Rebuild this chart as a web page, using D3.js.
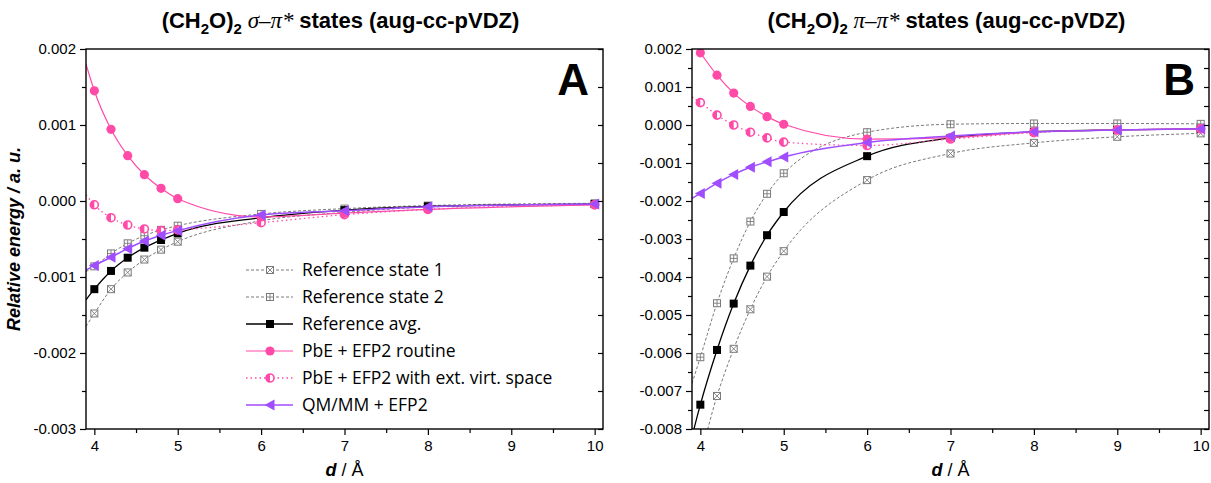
<!DOCTYPE html>
<html>
<head>
<meta charset="utf-8">
<script src="https://cdn.jsdelivr.net/npm/d3@7"></script>
<style>
  body { margin: 0; background: #fff; }
  svg { display: block; }
  .tick text { font-family: "Liberation Sans", Arial, sans-serif; font-size: 15px; fill: #000; }
</style>
</head>
<body>
<svg id="chart" width="1211" height="483"></svg>
<script>
const svg = d3.select("#chart");

// distances (Å)
const xA = [4, 4.2, 4.4, 4.6, 4.8, 5, 6, 7, 8, 10];
const xB = [4, 4.2, 4.4, 4.6, 4.8, 5, 6, 7, 8, 9, 10];

// panel A: sigma-pi* states, relative energy (a.u.)
const ref1A  = [-0.00148, -0.00116, -0.00094, -0.00077, -0.00064, -0.000535, -0.00026, -0.00015, -0.00008, -0.00004];
const ref2A  = [-0.00086, -0.00069, -0.000557, -0.000456, -0.00038, -0.000325, -0.00017, -0.0001, -0.00006, -0.00003];
const avgA   = [-0.00116, -0.00092, -0.000746, -0.000614, -0.000513, -0.000425, -0.00022, -0.00012, -0.00007, -0.00004];
const pbeA   = [0.00145, 0.000943, 0.000596, 0.000346, 0.000167, 0.00003, -0.00021, -0.00016, -0.00011, -0.00005];
const pbeExtA = [-0.00005, -0.00022, -0.000316, -0.000368, -0.00039, -0.00038, -0.000285, -0.00018, -0.00011, -0.00005];
const qmmmA  = [-0.00085, -0.00074, -0.000627, -0.000526, -0.000452, -0.00039, -0.000184, -0.000128, -0.000075, -0.00004];
// curve values where each line meets the left axis (x = 3.9)
const edgeA  = [-0.00165, -0.00093, -0.0013, 0.0018, 0.00008, -0.00091];

// panel B: pi-pi* states
const ref1B  = [-0.0087, -0.00713, -0.00589, -0.00485, -0.00399, -0.00332, -0.00145, -0.00075, -0.00047, -0.00031, -0.00022];
const ref2B  = [-0.00611, -0.00469, -0.00351, -0.00254, -0.00181, -0.00127, -0.00019, 0.00002, 0.00004, 0.00004, 0.00003];
const avgB   = [-0.00736, -0.00592, -0.0047, -0.0037, -0.0029, -0.00229, -0.00082, -0.00034, -0.00018, -0.00013, -0.0001];
const pbeB   = [0.0019, 0.00131, 0.00084, 0.00049, 0.00022, 0.00002, -0.00037, -0.00033, -0.00018, -0.00013, -0.0001];
const pbeExtB = [0.00059, 0.00026, 0.0, -0.00019, -0.00034, -0.00045, -0.00054, -0.00037, -0.0002, -0.00013, -0.0001];
const qmmmB  = [-0.0018, -0.00153, -0.0013, -0.00111, -0.00097, -0.00084, -0.00046, -0.00029, -0.00018, -0.00013, -0.0001];
const edgeB  = [-0.0094, -0.0068, -0.0082, 0.0022, 0.00074, -0.00193];

const seriesNames = ["Reference state 1", "Reference state 2", "Reference avg.",
  "PbE + EFP2 routine", "PbE + EFP2 with ext. virt. space", "QM/MM + EFP2"];

const xTicks = [4, 5, 6, 7, 8, 9, 10];
const xMinor = [4.5, 5.5, 6.5, 7.5, 8.5, 9.5];

const PINK = "#ff4aa8", PURPLE = "#a04dff", GRAY = "#7a7a7a";

const styles = [
  { color: GRAY, dash: "3,2", width: 1, marker: "boxX" },
  { color: GRAY, dash: "3,2", width: 1, marker: "boxPlus" },
  { color: "#000", dash: null, width: 1.3, marker: "square" },
  { color: PINK, dash: null, width: 1.2, marker: "circle" },
  { color: PINK, dash: "1.5,3", width: 1.3, marker: "half" },
  { color: PURPLE, dash: null, width: 1.5, marker: "triL" }
];

function drawMarker(g, type, color) {
  if (type === "boxX" || type === "boxPlus") {
    g.append("rect").attr("x", -3.5).attr("y", -3.5).attr("width", 7).attr("height", 7)
      .attr("fill", "#fff").attr("stroke", color).attr("stroke-width", 1);
    const p = type === "boxX" ? "M-3.5,-3.5L3.5,3.5M-3.5,3.5L3.5,-3.5" : "M0,-3.5V3.5M-3.5,0H3.5";
    g.append("path").attr("d", p).attr("stroke", color).attr("stroke-width", 0.9);
  } else if (type === "square") {
    g.append("rect").attr("x", -4).attr("y", -4).attr("width", 8).attr("height", 8).attr("fill", color);
  } else if (type === "circle") {
    g.append("circle").attr("r", 4.6).attr("fill", color);
  } else if (type === "half") {
    g.append("circle").attr("r", 4).attr("fill", "#fff").attr("stroke", color).attr("stroke-width", 1.6);
    g.append("path").attr("d", "M0,-4A4,4 0 0,0 0,4Z").attr("fill", color);
  } else if (type === "triL") {
    g.append("path").attr("d", "M-5.5,0L4.5,-5.5L4.5,5.5Z").attr("fill", color);
  }
}

const panels = [
  { left: 86, right: 603, x: xA, series: [ref1A, ref2A, avgA, pbeA, pbeExtA, qmmmA], edge: edgeA,
    yDomain: [-0.003, 0.002], letter: "A", sym: "\u03c3\u2013\u03c0*", legend: true },
  { left: 692, right: 1209, x: xB, series: [ref1B, ref2B, avgB, pbeB, pbeExtB, qmmmB], edge: edgeB,
    yDomain: [-0.008, 0.002], letter: "B", sym: "\u03c0\u2013\u03c0*", legend: false }
];
const plotTop = 49, plotBottom = 429;

panels.forEach((p, pi) => {
  const x = d3.scaleLinear().domain([3.9, 10.1]).range([p.left, p.right]);
  const y = d3.scaleLinear().domain(p.yDomain).range([plotBottom, plotTop]);
  const yMajor = d3.range(Math.round(p.yDomain[0] * 1000), Math.round(p.yDomain[1] * 1000) + 1).map(d => d / 1000);
  const yMinor = yMajor.slice(0, -1).map(d => d + 0.0005);

  const clipId = "clip" + pi;
  svg.append("clipPath").attr("id", clipId).append("rect")
    .attr("x", p.left).attr("y", plotTop).attr("width", p.right - p.left).attr("height", plotBottom - plotTop);

  const plot = svg.append("g").attr("clip-path", `url(#${clipId})`);
  const line = d3.line().x(d => x(d[0])).y(d => y(d[1])).curve(d3.curveMonotoneX);

  const order = [0, 1, 2, 4, 3, 5];
  order.forEach(si => {
    const st = styles[si];
    const pts = [[3.9, p.edge[si]]].concat(p.x.map((xv, i) => [xv, p.series[si][i]]));
    plot.append("path").attr("d", line(pts)).attr("fill", "none")
      .attr("stroke", st.color).attr("stroke-width", st.width)
      .attr("stroke-dasharray", st.dash);
  });
  order.forEach(si => {
    const st = styles[si];
    p.x.forEach((xv, i) => {
      const g = plot.append("g").attr("transform", `translate(${x(xv)},${y(p.series[si][i])})`);
      drawMarker(g, st.marker, st.color);
    });
  });

  // axes
  svg.append("g").attr("transform", `translate(0,${plotBottom})`)
    .call(d3.axisBottom(x).tickValues(xTicks).tickSize(6).tickPadding(5).tickFormat(d3.format("d")))
    .call(g => g.select(".domain").remove());
  svg.append("g").attr("transform", `translate(0,${plotBottom})`)
    .call(d3.axisBottom(x).tickValues(xMinor).tickSize(4).tickFormat(""))
    .call(g => g.select(".domain").remove());
  svg.append("g").attr("transform", `translate(${p.left},0)`)
    .call(d3.axisLeft(y).tickValues(yMajor).tickSize(6).tickPadding(4).tickFormat(d => d.toFixed(3)))
    .call(g => g.select(".domain").remove());
  svg.append("g").attr("transform", `translate(${p.left},0)`)
    .call(d3.axisLeft(y).tickValues(yMinor).tickSize(4).tickFormat(""))
    .call(g => g.select(".domain").remove());
  svg.append("g").attr("transform", `translate(${p.right},0)`)
    .call(d3.axisLeft(y).tickValues(yMajor.concat(yMinor)).tickSize(5).tickFormat(""))
    .call(g => g.select(".domain").remove());
  svg.selectAll(".tick line").attr("stroke-width", 1.2);

  svg.append("rect").attr("x", p.left).attr("y", plotTop)
    .attr("width", p.right - p.left).attr("height", plotBottom - plotTop)
    .attr("fill", "none").attr("stroke", "#000").attr("stroke-width", 1.4);

  // panel letter
  svg.append("text").attr("x", p.right - 14).attr("y", 95).attr("text-anchor", "end")
    .attr("font-family", "Liberation Sans, Arial, sans-serif").attr("font-weight", "bold")
    .attr("font-size", 44).text(p.letter);

  // title
  const cx = (p.left + p.right) / 2;
  const t = svg.append("text").attr("x", cx - 4).attr("y", 28).attr("text-anchor", "middle")
    .attr("font-family", "Liberation Sans, Arial, sans-serif").attr("font-weight", "bold").attr("font-size", 22);
  t.append("tspan").text("(CH");
  t.append("tspan").attr("font-size", 15).attr("dy", 6).text("2");
  t.append("tspan").attr("dy", -6).text("O)");
  t.append("tspan").attr("font-size", 15).attr("dy", 6).text("2");
  t.append("tspan").attr("dy", -6).attr("font-family", "Liberation Serif, serif").attr("font-style", "italic")
    .attr("font-weight", "normal").attr("font-size", 23).text(" " + p.sym + " ");
  t.append("tspan").text("states (aug-cc-pVDZ)");

  // x label
  const xl = svg.append("text").attr("x", cx).attr("y", 476).attr("text-anchor", "middle")
    .attr("font-family", "Liberation Sans, Arial, sans-serif").attr("font-size", 18);
  xl.append("tspan").attr("font-weight", "bold").attr("font-style", "italic").text("d");
  xl.append("tspan").text(" / \u00c5");

  if (p.legend) {
    const lg = svg.append("g").attr("transform", "translate(246,270)");
    seriesNames.forEach((name, i) => {
      const st = styles[i];
      const row = lg.append("g").attr("transform", `translate(0,${i * 27})`);
      row.append("line").attr("x1", 0).attr("x2", 47).attr("stroke", st.color)
        .attr("stroke-width", st.width).attr("stroke-dasharray", st.dash);
      drawMarker(row.append("g").attr("transform", "translate(24,0)"), st.marker, st.color);
      row.append("text").attr("x", 56).attr("y", 6)
        .attr("font-family", "Open Sans, sans-serif").attr("font-size", 17.5).text(name);
    });
  }
});

svg.append("text").attr("transform", `translate(20,${(plotTop + plotBottom) / 2}) rotate(-90)`)
  .attr("text-anchor", "middle").attr("font-family", "Liberation Sans, Arial, sans-serif")
  .attr("font-weight", "bold").attr("font-style", "italic").attr("font-size", 18)
  .text("Relative energy / a. u.");
</script>
</body>
</html>
